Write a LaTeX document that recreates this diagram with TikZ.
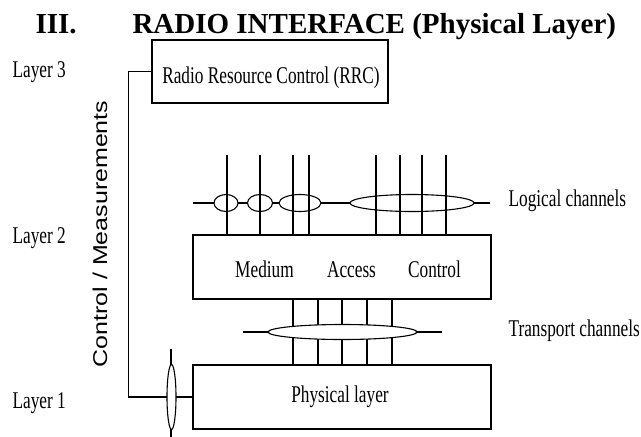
\documentclass[tikz,border=0pt]{standalone}
\usepackage{fontspec}
\usepackage{graphicx}
\setmainfont{Liberation Serif}
\newfontfamily\lblfont[FakeStretch=0.72]{Liberation Serif}
\newfontfamily\ctlfont{Liberation Sans}
\usetikzlibrary{shapes.geometric}
\begin{document}
\begin{tikzpicture}[x=1pt,y=-1pt,line width=1.1pt,
  box/.style={draw,line width=1.3pt,inner sep=0pt},
  lbl/.style={inner sep=0pt,font=\lblfont\fontsize{24}{26}\selectfont},
  ttlstyle/.style={inner sep=0pt,font=\bfseries\fontsize{29}{32}\selectfont},
  chan/.style={draw,ellipse,fill=white,inner sep=0pt,line width=1.1pt}]
\useasboundingbox (0,0) rectangle (641,437);
% title
\node[ttlstyle,anchor=base west] (num) at (35,33) {III.};
\node[ttlstyle,anchor=base west] (ttl) at (132,33) {RADIO INTERFACE (Physical Layer)};
% boxes
\node[box,minimum width=236,minimum height=63] (rrc) at (270,71.5) {};
\node[box,minimum width=298,minimum height=64] (mac) at (342,267) {};
\node[box,minimum width=298,minimum height=64] (phy) at (342,397) {};
% box texts
\node[lbl,anchor=base] (rrctxt) at (271,83) {Radio Resource Control (RRC)};
\node[lbl,anchor=base] (medium) at (264.5,277) {Medium};
\node[lbl,anchor=base] (access) at (351.5,277) {Access};
\node[lbl,anchor=base] (control) at (434.5,277) {Control};
\node[lbl,anchor=base] (phytxt) at (340,402) {Physical layer};
% layer labels
\node[lbl,anchor=base west] (l3) at (12,77) {Layer 3};
\node[lbl,anchor=base west] (l2) at (12,243) {Layer 2};
\node[lbl,anchor=base west] (l1) at (12,408) {Layer 1};
\node[lbl,anchor=base west] (logtxt) at (508,206) {Logical channels};
\node[lbl,anchor=base west] (trtxt) at (508,336) {Transport channels};
% control / measurements
\node[inner sep=0pt,rotate=90,anchor=base] (ctl) at (107,234)
  {\scalebox{1}[0.8]{\ctlfont\fontsize{25}{27}\selectfont Control / Measurements}};
% logical channels
\coordinate (lgA) at (193,203);
\coordinate (lgB) at (490,203);
\draw (lgA) -- (lgB);
\node[chan,minimum width=24,minimum height=17] (e1) at (226,203) {};
\node[chan,minimum width=25,minimum height=17] (e2) at (260,203) {};
\node[chan,minimum width=42,minimum height=17] (e3) at (300,203) {};
\node[chan,minimum width=124,minimum height=17] (e4) at (412,203) {};
\foreach \xx in {227,260,293,309,376,400,422,446}{
  \coordinate (t\xx) at (\xx,155);
  \draw (t\xx) -- (t\xx |- mac.north);
}
% transport channels
\coordinate (trA) at (243,332);
\coordinate (trB) at (442,332);
\draw (trA) -- (trB);
\foreach \xx in {293,318,342,367,392}{
  \coordinate (v\xx) at (\xx,332);
  \draw (v\xx |- mac.south) -- (v\xx |- phy.north);
}
\node[chan,minimum width=149,minimum height=15] (te) at (342.5,332) {};
% control path
\draw (rrc.west) -- ++(-23,0) |- (phy.west);
\coordinate (cT) at (171,349);
\coordinate (cB) at (171,437);
\draw (cT) -- (cB);
\node[chan,minimum width=9,minimum height=65] (ce) at (171.5,397) {};
\end{tikzpicture}
\end{document}
